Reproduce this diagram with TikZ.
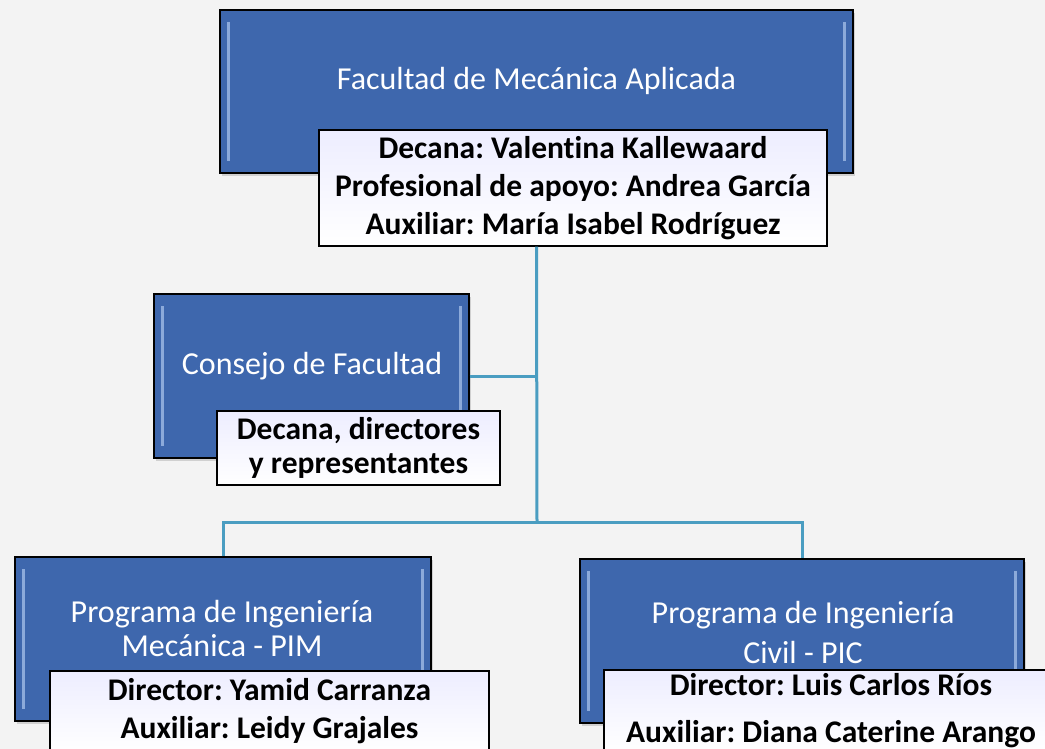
\documentclass[tikz,border=0pt]{standalone}
\usepackage{fontspec}
\setmainfont{Carlito}[Ligatures=NoCommon]
\usetikzlibrary{shadows}
\usetikzlibrary{positioning}
\usetikzlibrary{calc}

\definecolor{boxblue}{RGB}{62,103,173}
\definecolor{linkblue}{RGB}{74,157,193}
\definecolor{bggray}{RGB}{243,243,243}
\definecolor{bevel}{RGB}{140,170,218}

\begin{document}
\frenchspacing
\begin{tikzpicture}[x=1pt, y=-1pt,
  bluebox/.style={draw=black, line width=1.2pt, fill=boxblue, inner sep=0pt,
    drop shadow={opacity=0.3, shadow xshift=2pt, shadow yshift=-3pt},
    path picture={
      \fill[bevel] ([xshift=7pt,yshift=-12pt]path picture bounding box.north west) rectangle ([xshift=10pt,yshift=12pt]path picture bounding box.south west);
      \fill[bevel] ([xshift=-10pt,yshift=-12pt]path picture bounding box.north east) rectangle ([xshift=-7pt,yshift=12pt]path picture bounding box.south east);
    }},
  infobox/.style={draw=black, line width=1.2pt, top color=blue!7!white, bottom color=white,
    inner sep=0pt, align=center, font=\bfseries\fontsize{31.5}{38}\selectfont},
  title/.style={text=white, align=center, font=\fontsize{32}{34}\selectfont},
  conn/.style={draw=linkblue, line width=3pt}]

\useasboundingbox (0,0) rectangle (1045,749);
\fill[bggray] (0,0) rectangle (1045,749);
\clip (0,0) rectangle (1045,749);

% Facultad
\node[bluebox, minimum width=633pt, minimum height=163pt] (fac) at (536.5,91.5) {};
\node[title] (facT) at (536.5,81) {Facultad de Mecánica Aplicada};
\node[infobox, minimum width=508pt, minimum height=116pt] (facW) at (573,188)
  {Decana: Valentina Kallewaard\\ Profesional de apoyo: Andrea García\\ Auxiliar: María Isabel Rodríguez};

% Consejo
\node[bluebox, minimum width=315pt, minimum height=164pt] (cons) at (311.5,376) {};
\node[title] (consT) at (312,366) {Consejo de Facultad};
\node[infobox, minimum width=283pt, minimum height=74pt, font=\bfseries\fontsize{31.5}{34}\selectfont] (consW) at (358.5,448)
  {Decana, directores\\ y representantes};

% programas
\node[bluebox, minimum width=416pt, minimum height=164pt] (pim) at (223,639) {};
\node[title] (pimT) at (222,629) {Programa de Ingeniería\\ Mecánica - PIM};
\node[infobox, minimum width=439pt, minimum height=81pt] (pimW) at (269.5,711.5)
  {Director: Yamid Carranza\\ Auxiliar: Leidy Grajales};

\node[bluebox, minimum width=444pt, minimum height=164pt] (pic) at (802,641) {};
\node[title, font=\fontsize{32}{40}\selectfont] (picT) at (803,632) {Programa de Ingeniería\\ Civil - PIC};
\node[infobox, minimum width=454pt, minimum height=81pt] (picW) at (831,710.5)
  {Director: Luis Carlos Ríos\\[9pt] Auxiliar: Diana Caterine Arango};

% conectores
\coordinate (hub) at (537,522);
\draw[conn] (fac.south |- facW.south) -- (hub);
\draw[conn] (cons.east) -- (cons.east -| hub);
\draw[conn] (pim.north) |- (hub) -| (pic.north);

\end{tikzpicture}
\end{document}
